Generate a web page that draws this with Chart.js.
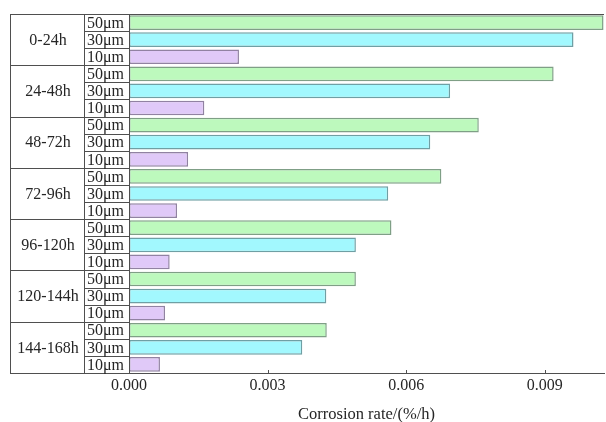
<!DOCTYPE html>
<html lang="en">
<head>
    <meta charset="UTF-8">
    <title>Corrosion rate</title>
    <script src="https://cdn.jsdelivr.net/npm/chart.js"></script>
    <style>
        html, body { margin: 0; padding: 0; background: #fff; }
        #chart-box { width: 606px; height: 422px; position: relative; }
    </style>
</head>
<body>
    <div id="chart-box">
        <canvas id="rateChart"></canvas>
    </div>

    <script>
        // data
        const periods = ['0-24h', '24-48h', '48-72h', '72-96h', '96-120h', '120-144h', '144-168h'];
        const sizes = ['50μm', '30μm', '10μm'];
        const rate50 = [0.01027, 0.00919, 0.00757, 0.00676, 0.00568, 0.00491, 0.00428];
        const rate30 = [0.00962, 0.00695, 0.00652, 0.00561, 0.00491, 0.00427, 0.00375];
        const rate10 = [0.00238, 0.00163, 0.00128, 0.00104, 0.00088, 0.00078, 0.00067];
        const xTicks = [0, 0.003, 0.006, 0.009];

        const fills = ['#bdf9bd', '#a2f8fe', '#e0c9f8'];
        const edges = ['#7f9f86', '#6f9fa4', '#9182a2'];
        const textColor = '#262626';
        const lineColor = '#4f4f4f';
        const serif = "'Liberation Serif', 'Times New Roman', serif";
        const tableLeft = 10;
        const splitX = 84;

        // draws the two-level label table on the left plus frame lines and inner ticks
        const tablePlugin = {
            id: 'labelTable',
            afterDraw(chart) {
                const ctx = chart.ctx;
                const area = chart.chartArea;
                const y = chart.scales.y;
                const x = chart.scales.x;
                ctx.save();
                ctx.strokeStyle = lineColor;
                ctx.lineWidth = 1;

                ctx.beginPath();
                // frame
                ctx.moveTo(tableLeft, area.top + 0.5);
                ctx.lineTo(area.right, area.top + 0.5);
                ctx.moveTo(tableLeft, area.bottom + 0.5);
                ctx.lineTo(area.right, area.bottom + 0.5);
                ctx.moveTo(tableLeft + 0.5, area.top);
                ctx.lineTo(tableLeft + 0.5, area.bottom);
                ctx.moveTo(splitX + 0.5, area.top);
                ctx.lineTo(splitX + 0.5, area.bottom);
                ctx.moveTo(area.left + 0.5, area.top);
                ctx.lineTo(area.left + 0.5, area.bottom);

                // group separators
                for (let i = 1; i < periods.length; i++) {
                    const gy = Math.round(y.getPixelForValue(i - 0.5)) + 0.5;
                    ctx.moveTo(tableLeft, gy);
                    ctx.lineTo(area.left, gy);
                }
                // row separators inside each group
                const band = (y.getPixelForValue(1) - y.getPixelForValue(0)) / sizes.length;
                periods.forEach((p, i) => {
                    const top = y.getPixelForValue(i - 0.5);
                    for (let r = 1; r < sizes.length; r++) {
                        const ry = Math.round(top + r * band) + 0.5;
                        ctx.moveTo(splitX, ry);
                        ctx.lineTo(area.left, ry);
                    }
                });
                // inner tick marks
                xTicks.forEach(v => {
                    const tx = Math.round(x.getPixelForValue(v)) + 0.5;
                    ctx.moveTo(tx, area.bottom);
                    ctx.lineTo(tx, area.bottom - 3);
                });
                ctx.stroke();

                // labels
                ctx.fillStyle = textColor;
                ctx.textBaseline = 'middle';
                ctx.font = '16px ' + serif;
                ctx.textAlign = 'center';
                periods.forEach((p, i) => {
                    ctx.fillText(p, (tableLeft + splitX) / 2 + 1, y.getPixelForValue(i) + 1);
                });
                ctx.textAlign = 'left';
                sizes.forEach((s, d) => {
                    chart.getDatasetMeta(d).data.forEach(bar => {
                        ctx.fillText(s, splitX + 3, bar.y + 1);
                    });
                });
                ctx.restore();
            }
        };

        const ctx = document.getElementById('rateChart').getContext('2d');

        new Chart(ctx, {
            type: 'bar',
            data: {
                labels: periods,
                datasets: [rate50, rate30, rate10].map((vals, d) => ({
                    label: sizes[d],
                    data: vals,
                    backgroundColor: fills[d],
                    borderColor: edges[d],
                    borderWidth: 1.5,
                    borderSkipped: false,
                    categoryPercentage: 1,
                    barPercentage: 0.86
                }))
            },
            options: {
                indexAxis: 'y',
                responsive: true,
                maintainAspectRatio: false,
                animation: false,
                layout: { padding: { left: 129, right: 2, top: 14, bottom: 0 } },
                plugins: {
                    legend: { display: false },
                    tooltip: { enabled: false }
                },
                scales: {
                    y: { display: false },
                    x: {
                        min: 0,
                        max: 0.01028,
                        afterFit: scale => { scale.height = 49; },
                        afterBuildTicks: scale => {
                            scale.ticks = xTicks.map(v => ({ value: v }));
                        },
                        grid: { display: false, drawTicks: false },
                        border: { display: true, color: lineColor, width: 1 },
                        ticks: {
                            padding: 3,
                            color: textColor,
                            font: { family: serif, size: 16 },
                            callback: v => v.toFixed(3)
                        },
                        title: {
                            display: true,
                            text: 'Corrosion rate/(%/h)',
                            color: textColor,
                            font: { family: serif, size: 16.5 },
                            padding: { top: 2, bottom: -3 }
                        }
                    }
                }
            },
            plugins: [tablePlugin]
        });
    </script>
</body>
</html>
